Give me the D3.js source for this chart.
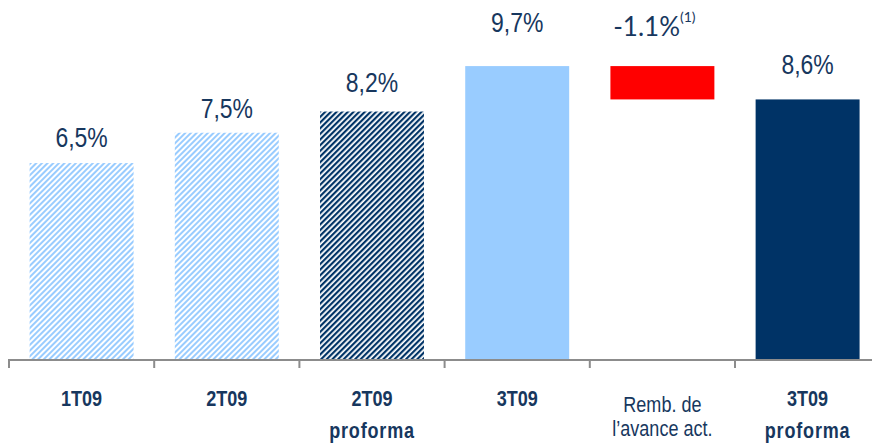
<!DOCTYPE html>
<html>
<head>
<meta charset="utf-8">
<script src="https://cdn.jsdelivr.net/npm/d3@7"></script>
<style>
  html, body { margin: 0; padding: 0; background: #fff; }
  svg { display: block; }
</style>
</head>
<body>
<svg id="chart" width="872" height="444"></svg>
<script>
// Categories (multi-line axis labels) and values in %
const categories = ["1T09", "2T09 proforma", "2T09", "3T09", "Remb", "3T09 proforma"];
const categoryLines = [["1T09"], ["2T09"], ["2T09", "proforma"], ["3T09"], ["Remb. de", "l\u2019avance act."], ["3T09", "proforma"]];
const values = [6.5, 7.5, 8.2, 9.7, -1.1, 8.6];
const valueLabels = ["6,5%", "7,5%", "8,2%", "9,7%", "-1.1%", "8,6%"];
const kinds = ["hatchLight", "hatchLight", "hatchDark", "light", "delta", "dark"];

const navy = "#003366";
const textNavy = "#17375e";
const lightBlue = "#99ccff";
const red = "#ff0000";
// Narrow face: Liberation Sans squeezed horizontally
const narrowFont = "'Liberation Sans', Arial, sans-serif";
const squeeze = 0.82;

const svg = d3.select("#chart");
const defs = svg.append("defs");

function hatch(id, color, size, stripe) {
  const p = defs.append("pattern")
    .attr("id", id)
    .attr("patternUnits", "userSpaceOnUse")
    .attr("width", size).attr("height", size)
    .attr("patternTransform", "rotate(45)");
  p.append("rect").attr("width", size).attr("height", size).attr("fill", "#fff");
  p.append("rect").attr("width", stripe).attr("height", size).attr("fill", color);
}
hatch("hatchLight", lightBlue, 4, 2);
hatch("hatchDark", navy, 4, 2.2);

const fills = {
  hatchLight: "url(#hatchLight)",
  hatchDark: "url(#hatchDark)",
  light: lightBlue,
  delta: red,
  dark: navy
};

const x = d3.scaleBand()
  .domain(categories)
  .range([9, 880.2])
  .paddingInner(0.284)
  .paddingOuter(0.142);

const y = d3.scaleLinear().domain([0, 10]).range([360, 57]);

// Waterfall extents: the repayment bar floats from the previous total down by its value
const bars = values.map((v, i) => {
  if (kinds[i] === "delta") {
    const start = values[i - 1];
    return { i, lo: start + v, hi: start };
  }
  return { i, lo: 0, hi: v };
});

svg.append("g")
  .selectAll("rect")
  .data(bars)
  .join("rect")
  .attr("x", d => x(categories[d.i]))
  .attr("width", x.bandwidth())
  .attr("y", d => y(d.hi))
  .attr("height", d => y(d.lo) - y(d.hi))
  .attr("fill", d => fills[kinds[d.i]]);

// Axis: baseline with ticks at band boundaries
const axisY = y(0);
const axis = svg.append("g").attr("stroke", "#8c8c8c").attr("stroke-width", 2);
axis.append("line").attr("x1", 9).attr("x2", 872).attr("y1", axisY).attr("y2", axisY);
const step = x.step();
const bounds = d3.range(categories.length + 1).map(k => 9 + k * step);
axis.selectAll("line.tick")
  .data(bounds.filter(b => b < 872))
  .join("line")
  .attr("class", "tick")
  .attr("x1", d => d).attr("x2", d => d)
  .attr("y1", axisY - 1).attr("y2", axisY + 8);

// Value labels above each bar
const lift = [16, 15, 20, 34, 0, 25];
const labels = svg.append("g")
  .attr("font-family", narrowFont)
  .attr("fill", textNavy)
  .attr("text-anchor", "middle");

bars.forEach(d => {
  const cx = x(categories[d.i]) + x.bandwidth() / 2;
  if (kinds[d.i] === "delta") {
    const t = labels.append("text")
      .attr("x", cx - 8)
      .attr("y", 36)
      .attr("font-family", "Lato, 'Open Sans', sans-serif")
      .attr("font-size", 26)
      .text(valueLabels[d.i]);
    t.append("tspan")
      .attr("font-size", 14)
      .attr("dy", -14)
      .text("(1)");
  } else {
    labels.append("text")
      .attr("transform", `translate(${cx},${y(d.hi) - lift[d.i]}) scale(${squeeze},1)`)
      .attr("font-size", 28)
      .text(valueLabels[d.i]);
  }
});

// Category labels under the axis
const cat = svg.append("g")
  .attr("font-family", narrowFont)
  .attr("fill", textNavy)
  .attr("text-anchor", "middle");

categoryLines.forEach((lines, i) => {
  const cx = x(categories[i]) + x.bandwidth() / 2;
  const isDelta = kinds[i] === "delta";
  const t = cat.append("text")
    .attr("transform", `translate(${cx},0) scale(${squeeze},1)`)
    .attr("font-size", 22)
    .attr("font-weight", isDelta ? "normal" : "bold");
  lines.forEach((ln, k) => {
    t.append("tspan")
      .attr("x", 0)
      .attr("y", isDelta ? 412.5 + k * 24 : 406 + k * 32)
      .attr("letter-spacing", ln === "proforma" ? 1 : 0)
      .text(ln);
  });
});
</script>
</body>
</html>
